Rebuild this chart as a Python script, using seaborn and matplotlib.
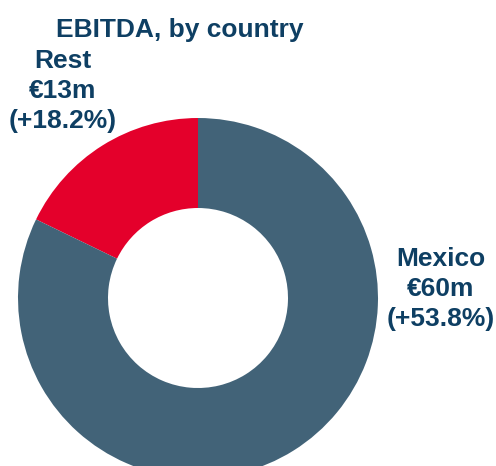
import matplotlib
matplotlib.use("Agg")
import matplotlib.pyplot as plt
import seaborn as sns

# EBITDA by country (EUR millions) and year-on-year growth (%)
countries = ["Rest", "Mexico"]
ebitda = [13, 60]
growth = [18.2, 53.8]
colors = ["#E4002B", "#426378"]

sns.set_theme(style="white")
plt.rcParams["font.family"] = ["Liberation Sans", "DejaVu Sans"]

TEXT = "#0E3F63"

fig = plt.figure(figsize=(4.96, 4.66), dpi=100)
ax = fig.add_axes([0, 0, 1, 1])

ax.pie(
    ebitda,
    colors=colors,
    startangle=90,
    counterclock=True,
    radius=1.0,
    wedgeprops=dict(width=0.5, linewidth=0),
)

ax.set_aspect("equal")
ax.set_xlim(-1.1, 1.6556)
ax.set_ylim(-0.9333, 1.6556)
ax.axis("off")

labels = [f"{c}\n€{v}m\n(+{g:.1f}%)" for c, v, g in zip(countries, ebitda, growth)]
label_pos = {"Rest": (-0.75, 1.15), "Mexico": (1.35, 0.05)}
for c, lab in zip(countries, labels):
    x, y = label_pos[c]
    ax.text(x, y, lab, ha="center", va="center", fontsize=19, fontweight="bold",
            color=TEXT, linespacing=1.3)

ax.text(-0.1, 1.49, "EBITDA, by country", ha="center", va="center", fontsize=19,
        fontweight="bold", color=TEXT)

fig.savefig("out.png", dpi=100)
